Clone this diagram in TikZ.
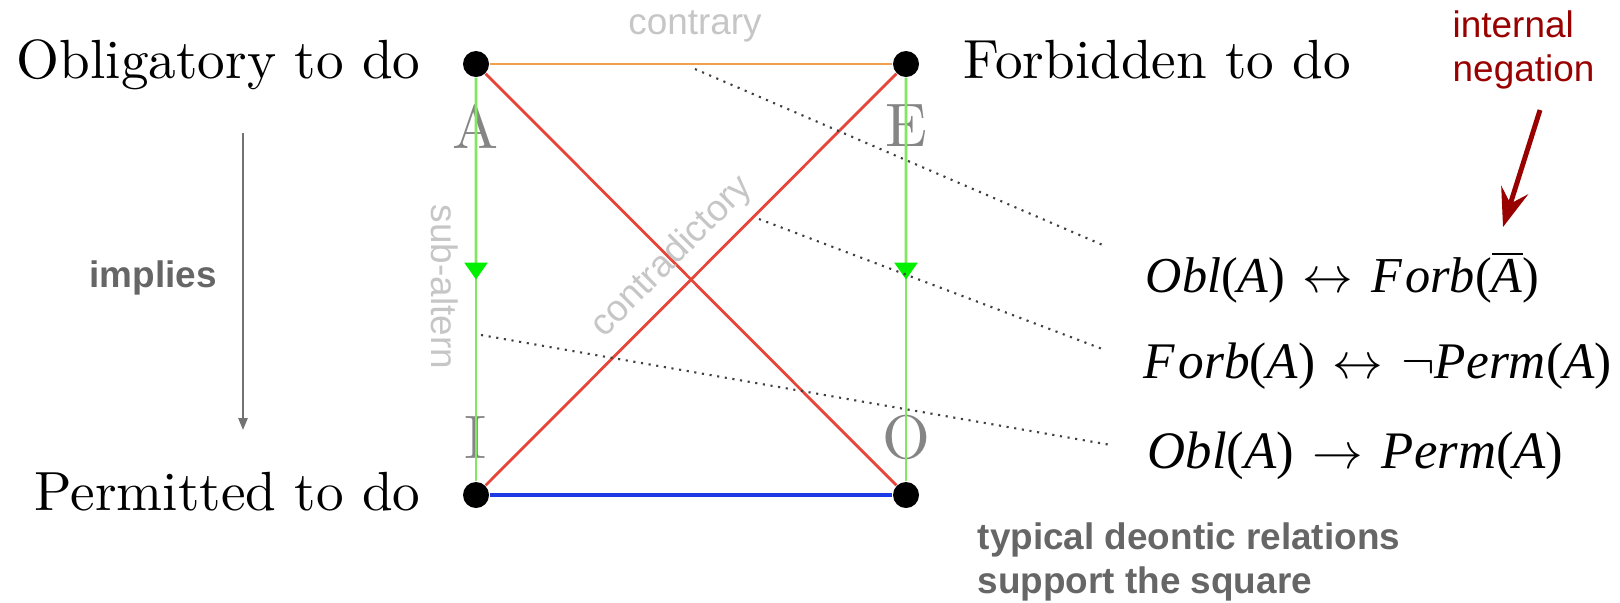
\documentclass[tikz,border=0pt]{standalone}
\usepackage{fontspec}
\usepackage{xcolor}
\usepackage{tikz}
\usetikzlibrary{arrows.meta,calc}
\newfontfamily\arialfont{Liberation Sans}
\newfontfamily\tnrfont{Liberation Serif}
\newfontfamily\lmten{lmroman10-regular.otf}
\definecolor{contra}{HTML}{F0A04E}
\definecolor{contrad}{HTML}{E6453A}
\definecolor{subalt}{HTML}{80E85E}
\definecolor{subtip}{HTML}{00F000}
\definecolor{subcon}{HTML}{1C3BE4}
\definecolor{vtx}{HTML}{858585}
\definecolor{faintlab}{HTML}{C6C6C6}
\definecolor{note}{HTML}{666666}
\definecolor{negred}{HTML}{990000}
\newcommand{\fgap}[1]{\hspace{#1}}
\tikzset{
  dot/.style={circle,fill=black,inner sep=0pt,minimum size=0.26cm},
  deon/.style={font=\lmten\fontsize{15.7}{19}\selectfont,inner sep=0pt},
  vlet/.style={font=\lmten\fontsize{17.5}{21}\selectfont,color=vtx,inner sep=0pt},
  rel/.style={font=\arialfont\fontsize{10.5}{12}\selectfont,color=faintlab,inner sep=0pt},
  formula/.style={font=\tnrfont\fontsize{#1}{18}\selectfont,anchor=base west,inner sep=0pt},
  remark/.style={font=\arialfont\bfseries\fontsize{10.5}{12.6}\selectfont,color=note,align=left,inner sep=0pt},
  ctr/.style={draw=contra,line width=0.8pt},
  ctd/.style={draw=contrad,line width=0.8pt},
  sub/.style={draw=subalt,line width=0.8pt},
  subarr/.style={sub,-{Triangle[length=0.17cm,width=0.23cm,color=subtip]}},
  scon/.style={draw=subcon,line width=0.9pt},
  lead/.style={draw=black!75,line width=0.6pt,dash pattern=on 0.6pt off 1.6pt},
  impl/.style={draw=black!55,line width=0.6pt,-{Triangle[length=3.4pt,width=2.6pt]}},
  negarr/.style={draw=negred,line width=1.4pt,-{Stealth[length=11pt,width=8pt,inset=4pt]}},
}

\begin{document}
\begin{tikzpicture}[x=1cm,y=1cm]
\useasboundingbox (0,0) rectangle (16.2,6.02);

% corners of the square
\node[dot] (A) at (4.76,5.38) {};
\node[dot] (E) at (9.06,5.38) {};
\node[dot] (I) at (4.76,1.07) {};
\node[dot] (O) at (9.06,1.07) {};

\node[deon,anchor=base east] (obl) at (4.21,5.24) {Obligatory to do};
\node[deon,anchor=base west] (forb) at (9.63,5.24) {Forbidden to do};
\node[deon,anchor=base east] (perm) at (4.21,0.92) {Permitted to do};

\node[vlet] (la) at (4.76,4.76) {A};
\node[vlet] (le) at (9.06,4.76) {E};
\node[vlet] (li) at (4.76,1.65) {I};
\node[vlet] (lo) at (9.06,1.65) {O};

% relations
\draw[ctr] (A) -- (E);
\draw[ctd] (A) -- (O);
\draw[ctd] (I) -- (E);
\draw[scon] (I) -- (O);
\draw[sub] (A) -- (I);
\draw[sub] (E) -- (O);
\draw[subarr] (A) -- ($(A)!0.5!(I)$);
\draw[subarr] (E) -- ($(E)!0.5!(O)$);

\node[rel] (ctrlab) at (6.95,5.76) {contrary};
\node[rel,rotate=45] (ctdlab) at (6.72,3.45) {contradictory};
\node[rel,rotate=-90] (sublab) at (4.45,3.15) {sub-altern};

% implies
\coordinate (imtop) at (2.43,4.69);
\coordinate (imbot) at (2.43,1.72);
\draw[impl] (imtop) -- (imbot);
\node[font=\arialfont\bfseries\fontsize{10.5}{12}\selectfont,color=note] (implab) at (1.53,3.24) {implies};

% formulas
\node[formula=14.3] (f1) at (11.45,3.10) {\itshape Obl\upshape(\itshape A\upshape)\fgap{5pt}$\leftrightarrow$\fgap{5pt}\itshape F\kern1pt orb\upshape($\overline{\hbox{\tnrfont\itshape A}}$)};
\node[formula=14.6] (f2) at (11.43,2.24) {\itshape F\kern1pt orb\upshape(\itshape A\upshape)\fgap{5pt}$\leftrightarrow$\fgap{5pt}$\neg$\itshape Perm\upshape(\itshape A\upshape)};
\node[formula=15] (f3) at (11.47,1.34) {\itshape Obl\upshape(\itshape A\upshape)\fgap{5.3pt}$\rightarrow$\fgap{5.3pt}\itshape Perm\upshape(\itshape A\upshape)};

\coordinate (c1) at (6.95,5.33);
\coordinate (c2) at (7.59,3.83);
\coordinate (c3) at (4.81,2.67);
\coordinate (e1) at (11.05,3.56);
\coordinate (e2) at (11.05,2.52);
\coordinate (e3) at (11.11,1.57);
\draw[lead] (c1) -- (e1);
\draw[lead] (c2) -- (e2);
\draw[lead] (c3) -- (e3);

\node[remark,anchor=west] (neg) at (14.52,5.52) {\color{negred}\mdseries internal\\\color{negred}\mdseries negation};
\coordinate (ntail) at (15.40,4.92);
\coordinate (nbar) at (15.03,3.75);
\draw[negarr] (ntail) -- (nbar);

\node[remark,anchor=west] (sum) at (9.77,0.40) {typical deontic relations\\support the square};
\end{tikzpicture}
\end{document}
